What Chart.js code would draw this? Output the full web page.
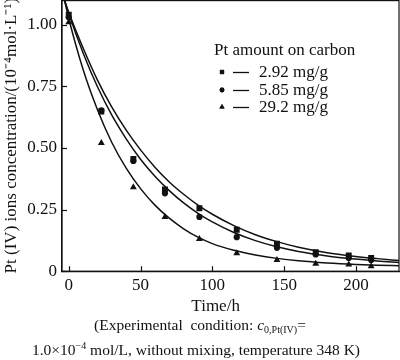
<!DOCTYPE html>
<html><head><meta charset="utf-8">
<script src="https://cdn.jsdelivr.net/npm/chart.js@4/dist/chart.umd.min.js"></script>
<style>
html,body{margin:0;padding:0;background:#fff;}
#wrap{position:relative;width:400px;height:360px;overflow:hidden;}
canvas{position:absolute;left:0;top:0;}
.cap{position:absolute;left:0;width:400px;text-align:center;font-family:"Liberation Serif",serif;font-size:15.5px;line-height:18px;color:#111;white-space:nowrap;}
.cap sub{font-size:10px;vertical-align:-3px;line-height:0;}
.cap sup{font-size:10px;vertical-align:6px;line-height:0;}
</style></head><body>
<div id="wrap">
<canvas id="c" width="400" height="360"></canvas>
<div class="cap" style="top:316px;">(Experimental&nbsp;&nbsp;condition: <i>c</i><sub>0,Pt(IV)</sub>=</div>
<div class="cap" style="top:341px;left:-4px;">1.0×10<sup>−4</sup> mol/L, without mixing, temperature 348 K)</div>
</div>
<script>
// ---- data ----
const timeH      = [0, 22.7, 45, 67, 91, 117, 145, 172, 195, 210.6];
const pt292      = [1.04, 0.648, 0.455, 0.332, 0.255, 0.168, 0.111, 0.077, 0.064, 0.054];
const pt585      = [1.03, 0.652, 0.447, 0.316, 0.220, 0.138, 0.095, 0.068, 0.054, 0.045];
const pt292b     = [1.01, 0.520, 0.340, 0.220, 0.131, 0.073, 0.045, 0.030, 0.027, 0.020];

const fitTime    = [-3, 0, 10, 20, 30, 40, 50, 60, 70, 80, 90, 100, 115, 130, 145, 160, 180, 200, 215, 230];
const fit292     = [1.10, 1.05, 0.905, 0.775, 0.665, 0.572, 0.492, 0.422, 0.362, 0.312, 0.268, 0.231, 0.185, 0.148, 0.120, 0.097, 0.075, 0.060, 0.051, 0.043];
const fit585     = [1.10, 1.045, 0.885, 0.748, 0.633, 0.537, 0.454, 0.385, 0.327, 0.277, 0.235, 0.200, 0.157, 0.124, 0.099, 0.080, 0.062, 0.049, 0.041, 0.035];
const fit292b    = [1.10, 1.025, 0.818, 0.655, 0.522, 0.418, 0.335, 0.268, 0.215, 0.172, 0.138, 0.112, 0.085, 0.066, 0.052, 0.042, 0.033, 0.027, 0.024, 0.022];

const xTicks = [0, 50, 100, 150, 200];
const yTicks = [0, 0.25, 0.50, 0.75, 1.00];
const seriesLabels = ["2.92 mg/g", "5.85 mg/g", "29.2 mg/g"];
const seriesStyles = ["rect", "circle", "triangle"];
const legendTitle = "Pt amount on carbon";
const xTitle = "Time/h";
const yTitle = "Pt (IV) ions concentration/(10\u207B\u2074mol\u00B7L\u207B\u00B9)";

const FONT = "'Liberation Serif', 'Times New Roman', serif";
const INK = "#111";

function pts(xs, ys){ return xs.map((x,i)=>({x:x, y:ys[i]})); }

const markerRadius = {rect: 4.2, circle: 3.1, triangle: 4.0};
const legendRadius = {rect: 3.0, circle: 2.4, triangle: 3.0};

const datasets = [];
[fit292, fit585, fit292b].forEach((f,i)=>{
  datasets.push({label: "fit " + seriesLabels[i], data: pts(fitTime, f), showLine: true,
    borderColor: INK, borderWidth: 1.5, pointRadius: 0, cubicInterpolationMode: 'monotone', isFit: true});
});
[pt292, pt585, pt292b].forEach((s,i)=>{
  datasets.push({label: seriesLabels[i], data: pts(timeH, s), showLine: false,
    pointStyle: seriesStyles[i], pointRadius: markerRadius[seriesStyles[i]],
    backgroundColor: INK, borderColor: INK, borderWidth: 0});
});

const framePlugin = {
  id: 'frame',
  afterDraw(chart){
    const {ctx, chartArea: a, scales} = chart;
    ctx.save();
    ctx.strokeStyle = INK; ctx.lineWidth = 1.2;
    ctx.strokeRect(a.left, a.top + 0.6, Math.min(a.right, 399.4) - a.left, a.bottom - a.top - 0.6);
    // inward tick marks
    scales.x.ticks.forEach(t=>{
      const px = Math.round(scales.x.getPixelForValue(t.value)) + 0.5;
      ctx.beginPath(); ctx.moveTo(px, a.bottom); ctx.lineTo(px, a.bottom - 5); ctx.stroke();
    });
    scales.y.ticks.forEach(t=>{
      const py = Math.round(scales.y.getPixelForValue(t.value)) + 0.5;
      ctx.beginPath(); ctx.moveTo(a.left, py); ctx.lineTo(a.left + 5, py); ctx.stroke();
    });
    // legend
    ctx.fillStyle = INK;
    ctx.font = "17px " + FONT;
    ctx.textBaseline = 'middle';
    ctx.textAlign = 'left';
    ctx.fillText(legendTitle, 214, 51);
    const rows = [72, 90, 107];
    chart.data.datasets.filter(d=>!d.isFit).forEach((d,i)=>{
      const y = rows[i];
      Chart.helpers.drawPoint(ctx, {pointStyle: d.pointStyle, radius: legendRadius[d.pointStyle], rotation: 0, borderWidth: 0}, 222, y);
      ctx.fill();
      ctx.lineWidth = 1.3;
      ctx.beginPath(); ctx.moveTo(233, y + 0.5); ctx.lineTo(249, y + 0.5); ctx.stroke();
      ctx.fillText(d.label, 259, y + 1);
    });
    ctx.restore();
  }
};

new Chart(document.getElementById('c'), {
  type: 'scatter',
  data: {datasets},
  options: {
    responsive: false,
    animation: false,
    devicePixelRatio: 1,
    layout: {autoPadding: false, padding: {left: 0, right: 1, top: 0, bottom: 43}},
    plugins: {legend: {display: false}, tooltip: {enabled: false}},
    scales: {
      x: {
        type: 'linear', min: -4.7, max: 230,
        afterBuildTicks: s => { s.ticks = xTicks.map(v=>({value: v})); },
        afterFit: s => { s.paddingLeft = 0; s.paddingRight = 0; },
        grid: {display: true, drawOnChartArea: false, drawTicks: false},
        border: {display: true, color: INK, width: 1.2},
        ticks: {color: INK, font: {family: FONT, size: 17}, padding: 4, maxRotation: 0,
          callback: v => String(v)},
        title: {display: true, text: xTitle + "       ", color: INK, font: {family: FONT, size: 17}, padding: {top: -3, bottom: 0}}
      },
      y: {
        type: 'linear', min: 0, max: 1.1,
        afterBuildTicks: s => { s.ticks = yTicks.map(v=>({value: v})); },
        afterFit: s => { s.width = 62; s.paddingTop = 0; s.paddingBottom = 0; },
        grid: {display: true, drawOnChartArea: false, drawTicks: false},
        border: {display: true, color: INK, width: 1.2},
        ticks: {color: INK, font: {family: FONT, size: 17}, padding: 5,
          callback: v => v === 0 ? "0" : v.toFixed(2)},
        title: {display: true, text: yTitle, color: INK, font: {family: FONT, size: 17}, padding: {top: 1, bottom: 0}}
      }
    }
  },
  plugins: [framePlugin]
});
</script>
</body></html>
